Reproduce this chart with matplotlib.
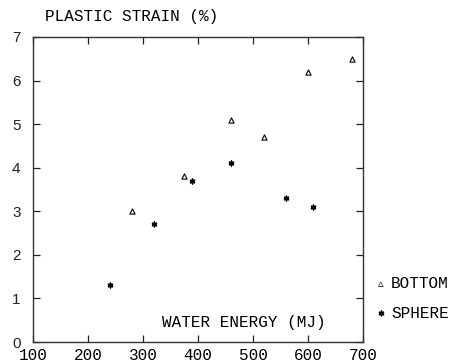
import matplotlib
matplotlib.use("Agg")
import matplotlib.pyplot as plt

bottom_x = [280, 374, 460, 520, 600, 680]
bottom_y = [3.0, 3.8, 5.1, 4.7, 6.2, 6.5]
sphere_x = [240, 320, 389, 460, 560, 609]
sphere_y = [1.3, 2.7, 3.7, 4.1, 3.3, 3.1]
xticks = [100, 200, 300, 400, 500, 600, 700]
yticks = [0, 1, 2, 3, 4, 5, 6, 7]

fig = plt.figure(figsize=(4.58, 3.64), dpi=100)
ax = fig.add_axes([33/458, 1-342/364, 330/458, 305/364])
ax.set_xlim(100, 700)
ax.set_ylim(0, 7)

star = (6, 2, 0)
ax.scatter(bottom_x, bottom_y, marker="^", s=14, facecolors="white",
           edgecolors="black", linewidths=0.8, zorder=3)
ax.scatter(sphere_x, sphere_y, marker=star, s=11, color="black",
           linewidths=1.1, zorder=3)

mono = "Liberation Mono"
ax.set_xticks(xticks)
ax.set_xticklabels([str(v) for v in xticks], family=mono, fontsize=11.5)
ax.set_yticks(yticks)
ax.set_yticklabels([str(v) for v in yticks], family="Liberation Sans", fontsize=11,
                   color="#222222")
ax.tick_params(direction="in", top=True, right=True, length=5, width=0.9, color="#222222")
ax.tick_params(axis="x", pad=4)
ax.tick_params(axis="y", pad=9)
for s in ax.spines.values():
    s.set_linewidth(1.0)
    s.set_color("#333333")

fig.text(45/458, 1-17/364, "PLASTIC STRAIN (%)", family=mono, fontsize=11.5,
         ha="left", va="center")
fig.text(162/458, 1-322/364, "WATER ENERGY (MJ)", family=mono, fontsize=11.5,
         ha="left", va="center")

# legend
fig.text(381/458, 1-284/364, "\u25b5", fontsize=8, ha="center", va="center",
         family="DejaVu Sans")
fig.text(391/458, 1-284/364, "BOTTOM", family=mono, fontsize=11.5, ha="left", va="center")
ax.scatter([381/458], [1-313/364], marker=star, s=11, color="black",
           linewidths=1.1, transform=fig.transFigure, clip_on=False)
fig.text(391/458, 1-314/364, "SPHERE", family=mono, fontsize=11.5, ha="left", va="center")

fig.savefig("out.png", dpi=100)
